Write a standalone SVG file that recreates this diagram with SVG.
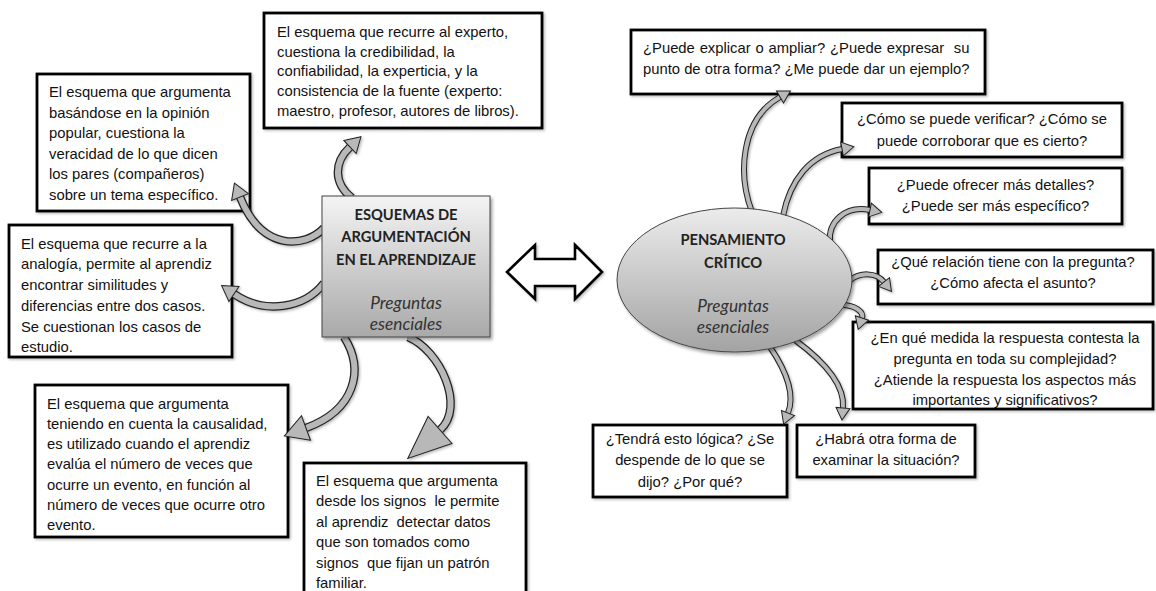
<svg xmlns="http://www.w3.org/2000/svg" width="1156" height="591" viewBox="0 0 1156 591">
<defs>
<style>
.box{fill:#fff;stroke:#000;stroke-width:2.8}
.t{font-family:"Liberation Sans",Arial,sans-serif;font-size:14.8px;fill:#111}
.tc{font-family:"Liberation Sans",Arial,sans-serif;font-size:14.8px;fill:#111;text-anchor:middle}
.hb{font-family:Lato,"Open Sans",sans-serif;font-weight:bold;font-size:14.7px;fill:#222;text-anchor:middle}
.hi{font-family:Lato,"Open Sans",sans-serif;font-style:italic;font-size:17.3px;fill:#333;text-anchor:middle}
.ob{fill:none;stroke:#222;stroke-width:8.5}
.ib{fill:none;stroke:#b8b8b8;stroke-width:6}
.obr{fill:none;stroke:#222;stroke-width:6}
.ibr{fill:none;stroke:#b8b8b8;stroke-width:4}
.hd{fill:#b8b8b8;stroke:#222;stroke-width:1}
.dbl{fill:#fff;stroke:#000;stroke-width:2.6;stroke-linejoin:miter}
</style>
<linearGradient id="gBox" x1="0" y1="0" x2="0" y2="1">
<stop offset="0" stop-color="#f4f4f4"/>
<stop offset="1" stop-color="#a9a9a9"/>
</linearGradient>
<linearGradient id="gEll" x1="0" y1="0" x2="0" y2="1">
<stop offset="0" stop-color="#ececec"/>
<stop offset="1" stop-color="#a3a3a3"/>
</linearGradient>
<filter id="sh" x="-10%" y="-10%" width="130%" height="130%">
<feDropShadow dx="2" dy="2.5" stdDeviation="1.5" flood-color="#000" flood-opacity="0.35"/>
</filter>
<filter id="shl" x="-10%" y="-10%" width="130%" height="130%">
<feDropShadow dx="1.5" dy="1.5" stdDeviation="1" flood-color="#000" flood-opacity="0.25"/>
</filter>
<marker id="mL" markerUnits="userSpaceOnUse" orient="auto" markerWidth="30" markerHeight="30" viewBox="-5 -15 30 30" refX="0" refY="0" overflow="visible"><path class="hd" d="M0,-9 L15,0 L0,9 Z"/></marker>
<marker id="mA4" markerUnits="userSpaceOnUse" orient="auto" markerWidth="35" markerHeight="36" viewBox="-5 -18 35 36" refX="0" refY="0" overflow="visible"><path class="hd" d="M0,-13 L23,0 L0,13 Z"/></marker>
<marker id="mA5" markerUnits="userSpaceOnUse" orient="auto" markerWidth="55" markerHeight="50" viewBox="-5 -25 55 50" refX="0" refY="0" overflow="visible"><path class="hd" d="M0,-18 L43,0 L0,18 Z"/></marker>
<marker id="mR" markerUnits="userSpaceOnUse" orient="auto" markerWidth="25" markerHeight="24" viewBox="-5 -12 25 24" refX="0" refY="0" overflow="visible"><path class="hd" d="M0,-7 L12,0 L0,7 Z"/></marker>
</defs>
<rect x="0" y="0" width="1156" height="591" fill="#fff"/>

<g id="n-experto">
<rect class="box" filter="url(#shl)" x="264" y="13" width="278" height="115"/>
<text class="t" x="277" y="37">El esquema que recurre al experto,</text>
<text class="t" x="277" y="56.7">cuestiona la credibilidad, la</text>
<text class="t" x="277" y="76.4">confiabilidad, la experticia, y la</text>
<text class="t" x="277" y="96.1">consistencia de la fuente (experto:</text>
<text class="t" x="277" y="115.8">maestro, profesor, autores de libros).</text>
</g>

<g id="n-popular">
<rect class="box" filter="url(#shl)" x="37" y="74" width="213" height="137"/>
<text class="t" x="49" y="97">El esquema que argumenta</text>
<text class="t" x="49" y="117.5">basándose en la opinión</text>
<text class="t" x="49" y="138">popular, cuestiona la</text>
<text class="t" x="49" y="158.5">veracidad de lo que dicen</text>
<text class="t" x="49" y="179">los pares (compañeros)</text>
<text class="t" x="49" y="199.5">sobre un tema específico.</text>
</g>

<g id="n-analogia">
<rect class="box" filter="url(#shl)" x="9" y="225" width="223" height="132"/>
<text class="t" x="21" y="248.5">El esquema que recurre a la</text>
<text class="t" x="21" y="269.3">analogía, permite al aprendiz</text>
<text class="t" x="21" y="290">encontrar similitudes y</text>
<text class="t" x="21" y="310.8">diferencias entre dos casos.</text>
<text class="t" x="21" y="331.6">Se cuestionan los casos de</text>
<text class="t" x="21" y="352.3">estudio.</text>
</g>

<g id="n-causalidad">
<rect class="box" filter="url(#shl)" x="35" y="385" width="253" height="152"/>
<text class="t" x="47" y="408.5">El esquema que argumenta</text>
<text class="t" x="47" y="428.8">teniendo en cuenta la causalidad,</text>
<text class="t" x="47" y="449.1">es utilizado cuando el aprendiz</text>
<text class="t" x="47" y="469.4">evalúa el número de veces que</text>
<text class="t" x="47" y="489.7">ocurre un evento, en función al</text>
<text class="t" x="47" y="510">número de veces que ocurre otro</text>
<text class="t" x="47" y="530.3">evento.</text>
</g>

<g id="n-signos">
<rect class="box" filter="url(#shl)" x="304" y="463" width="222" height="140"/>
<text class="t" x="316" y="486">El esquema que argumenta</text>
<text class="t" x="316" y="506.4" xml:space="preserve">desde los signos  le permite</text>
<text class="t" x="316" y="526.8" xml:space="preserve">al aprendiz  detectar datos</text>
<text class="t" x="316" y="547.2">que son tomados como</text>
<text class="t" x="316" y="567.6" xml:space="preserve">signos  que fijan un patrón</text>
<text class="t" x="316" y="588">familiar.</text>
</g>

<g id="n-explicar">
<rect class="box" filter="url(#shl)" x="631" y="30" width="354" height="64"/>
<text class="t" x="643" y="53" xml:space="preserve" word-spacing="0.7">¿Puede explicar o ampliar? ¿Puede expresar  su</text>
<text class="t" x="643" y="74">punto de otra forma? ¿Me puede dar un ejemplo?</text>
</g>

<g id="n-verificar">
<rect class="box" filter="url(#shl)" x="842" y="103" width="280" height="54"/>
<text class="tc" x="982" y="123.5">¿Cómo se puede verificar? ¿Cómo se</text>
<text class="tc" x="982" y="146">puede corroborar que es cierto?</text>
</g>

<g id="n-detalles">
<rect class="box" filter="url(#shl)" x="869" y="168" width="253" height="56"/>
<text class="tc" x="995.5" y="189.5">¿Puede ofrecer más detalles?</text>
<text class="tc" x="995.5" y="211">¿Puede ser más específico?</text>
</g>

<g id="n-relacion">
<rect class="box" filter="url(#shl)" x="878" y="250" width="275" height="54"/>
<text class="tc" x="1013" y="267">¿Qué relación tiene con la pregunta?</text>
<text class="tc" x="1013" y="288">¿Cómo afecta el asunto?</text>
</g>

<g id="n-medida">
<rect class="box" filter="url(#shl)" x="853" y="322" width="300" height="87"/>
<text class="tc" x="1005" y="343">¿En qué medida la respuesta contesta la</text>
<text class="tc" x="1005" y="364">pregunta en toda su complejidad?</text>
<text class="tc" x="1005" y="385">¿Atiende la respuesta los aspectos más</text>
<text class="tc" x="1005" y="405">importantes y significativos?</text>
</g>

<g id="n-logica">
<rect class="box" filter="url(#shl)" x="593" y="425" width="194" height="72"/>
<text class="tc" x="690" y="444">¿Tendrá esto lógica? ¿Se</text>
<text class="tc" x="690" y="465">despende de lo que se</text>
<text class="tc" x="690" y="486.5">dijo? ¿Por qué?</text>
</g>

<g id="n-otra">
<rect class="box" filter="url(#shl)" x="797" y="425" width="178" height="52"/>
<text class="tc" x="886" y="444">¿Habrá otra forma de</text>
<text class="tc" x="886" y="465">examinar la situación?</text>
</g>

<g id="connectors" filter="url(#shl)">
<path class="ob" d="M352,198 C333,183 334,162 350,147"/>
<path class="ib" d="M352,198 C333,183 334,162 350,147" marker-end="url(#mL)"/>
<path class="ob" d="M324,228 C305,248 262,252 240,197"/>
<path class="ib" d="M324,228 C305,248 262,252 240,197" marker-end="url(#mL)"/>
<path class="ob" d="M324,283 C305,308 265,315 234,294"/>
<path class="ib" d="M324,283 C305,308 265,315 234,294" marker-end="url(#mL)"/>
<path class="ob" d="M344,337 C365,370 355,410 306,428"/>
<path class="ib" d="M344,337 C365,370 355,410 306,428" marker-end="url(#mA4)"/>
<path class="ob" d="M408,337 C440,350 466,407 440,430"/>
<path class="ib" d="M408,337 C440,350 466,407 440,430" marker-end="url(#mA5)"/>

<path class="obr" d="M752,212 C738,175 740,120 780,97"/>
<path class="ibr" d="M752,212 C738,175 740,120 780,97" marker-end="url(#mR)"/>
<path class="obr" d="M783,216 C790,180 810,155 842,149"/>
<path class="ibr" d="M783,216 C790,180 810,155 842,149" marker-end="url(#mR)"/>
<path class="obr" d="M830,242 C828,222 845,205 870,210"/>
<path class="ibr" d="M830,242 C828,222 845,205 870,210" marker-end="url(#mR)"/>
<path class="obr" d="M849,281 C860,272 876,272 884,282"/>
<path class="ibr" d="M849,281 C860,272 876,272 884,282" marker-end="url(#mR)"/>
<path class="obr" d="M842,305 C855,305 864,312 862,318"/>
<path class="ibr" d="M842,305 C855,305 864,312 862,318" marker-end="url(#mR)"/>
<path class="obr" d="M770,347 C787,372 795,395 788,413"/>
<path class="ibr" d="M770,347 C787,372 795,395 788,413" marker-end="url(#mR)"/>
<path class="obr" d="M795,340 C825,362 845,385 843,408"/>
<path class="ibr" d="M795,340 C825,362 845,385 843,408" marker-end="url(#mR)"/>

<polygon class="dbl" points="507,272 535,245 535,259 575,259 575,245 602,272 575,299 575,286 535,286 535,299"/>
</g>

<g id="n-esquemas">
<rect x="322" y="196" width="168" height="141" fill="url(#gBox)" stroke="#444" stroke-width="1" filter="url(#sh)"/>
<text class="hb" x="406" y="220">ESQUEMAS DE</text>
<text class="hb" x="406" y="242">ARGUMENTACIÓN</text>
<text class="hb" x="406" y="265">EN EL APRENDIZAJE</text>
<text class="hi" x="406" y="309">Preguntas</text>
<text class="hi" x="406" y="330">esenciales</text>
</g>

<g id="n-pensamiento">
<ellipse cx="734.5" cy="280" rx="117.5" ry="72" fill="url(#gEll)" stroke="#444" stroke-width="1" filter="url(#sh)"/>
<text class="hb" x="733" y="245">PENSAMIENTO</text>
<text class="hb" x="733" y="268">CRÍTICO</text>
<text class="hi" x="733" y="312">Preguntas</text>
<text class="hi" x="733" y="333">esenciales</text>
</g>
</svg>
